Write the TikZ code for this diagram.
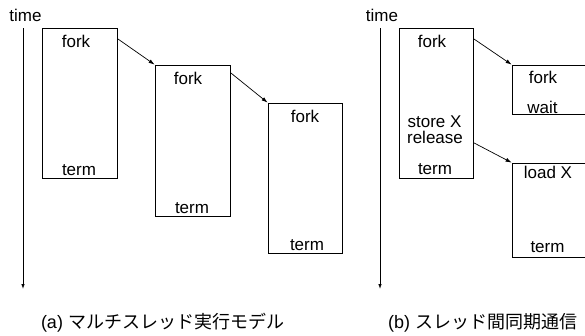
\documentclass[tikz,border=0pt]{standalone}
\usepackage{fontspec}
\setmainfont{Liberation Sans}
\newfontfamily\cjk{Noto Sans CJK JP}
\usetikzlibrary{calc,arrows.meta}
\begin{document}
\begin{tikzpicture}[x=1pt,y=-1pt,
  box/.style={draw, line width=0.8pt, inner sep=0pt},
  lbl/.style={anchor=base, inner sep=0pt, font=\fontsize{17pt}{20pt}\selectfont},
  captext/.style={anchor=base, inner sep=0pt, font=\fontsize{18pt}{21pt}\selectfont},
  conn/.style={line width=0.7pt, -{Latex[length=6pt,width=4pt]}},
  axis/.style={line width=0.8pt, -{Latex[length=5pt,width=3.5pt]}}]
\clip (0,0) rectangle (585,335);
% ---------- (a) ----------
\node[lbl] (timeA) at (25.5,21) {time};
\coordinate (ta1) at (23,28);
\coordinate (ta2) at (23,289);
\draw[axis] (ta1) -- (ta2);
\node[box, minimum width=75pt, minimum height=150pt] (b1) at (79.5,103) {};
\node[box, minimum width=75pt, minimum height=151pt] (b2) at (192.5,140.5) {};
\node[box, minimum width=74pt, minimum height=150pt] (b3) at (305,178) {};
\node[lbl] (f1) at (76,47) {fork};
\node[lbl] (t1) at (79,175) {term};
\node[lbl] (f2) at (188,84) {fork};
\node[lbl] (t2) at (192,213) {term};
\node[lbl] (f3) at (305,122) {fork};
\node[lbl] (t3) at (307,250) {term};
\draw[conn] ($(b1.north east)+(0,11)$) -- (b2.north west);
\draw[conn] ($(b2.north east)+(0,8)$) -- (b3.north west);
\node[captext] (capA) at (162.5,328) {(a) {\cjk マルチスレッド実行モデル}};
% ---------- (b) ----------
\node[lbl] (timeB) at (382,21) {time};
\coordinate (tb1) at (380,28);
\coordinate (tb2) at (380,289);
\draw[axis] (tb1) -- (tb2);
\node[box, minimum width=74pt, minimum height=150pt] (m) at (436,103) {};
\node[box, minimum width=90pt, minimum height=49pt] (w) at (557,89.5) {};
\node[box, minimum width=90pt, minimum height=94pt] (l) at (557,210) {};
\node[lbl] (fm) at (432,47) {fork};
\node[lbl] (s) at (434.5,127) {store X};
\node[lbl] (r) at (435,143) {release};
\node[lbl] (tm) at (435,174) {term};
\node[lbl] (fw) at (543,83) {fork};
\node[lbl] (ww) at (542.5,113) {wait};
\node[lbl] (lx) at (548,178) {load X};
\node[lbl] (tl) at (547.5,252) {term};
\draw[conn] ($(m.north east)+(0,11)$) -- (w.north west);
\draw[conn] ($(m.north east)+(0,115)$) -- (l.north west);
\node[captext] (capB) at (482.5,328) {(b) {\cjk スレッド間同期通信}};
\end{tikzpicture}
\end{document}
